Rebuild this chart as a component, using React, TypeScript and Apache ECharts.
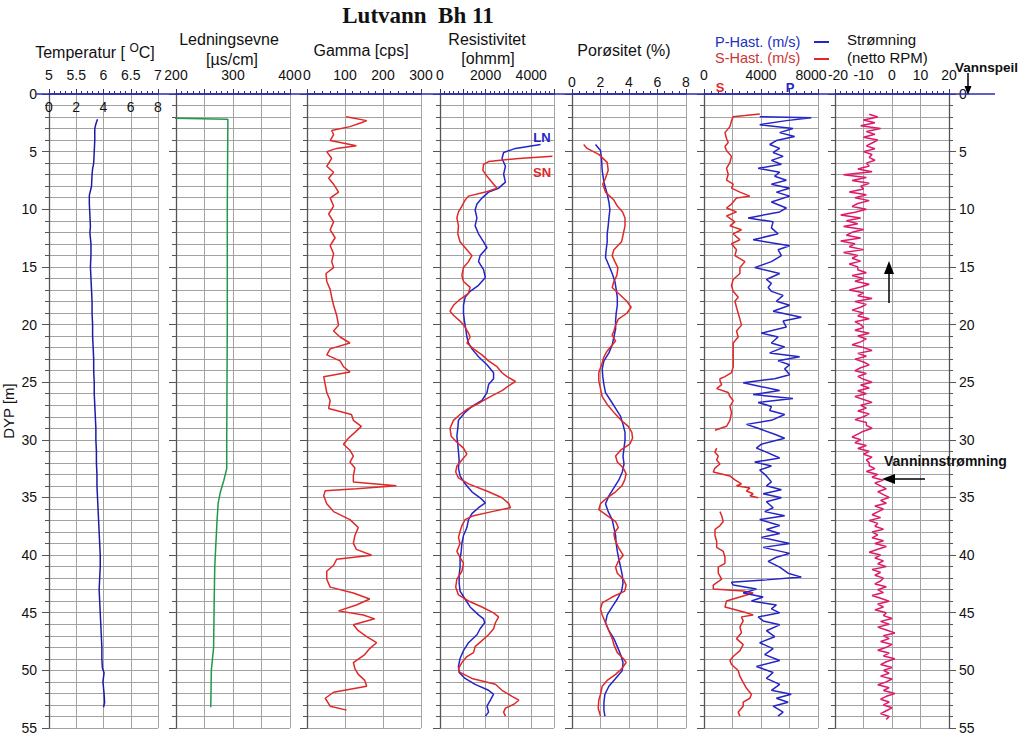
import React, { useEffect, useRef } from "react";
import * as echarts from "echarts";

const FONT = "'Liberation Sans', Arial, Helvetica, sans-serif";
const SERIF = "'Liberation Serif', 'Times New Roman', serif";

const chartTitle = "Lutvann  Bh 11";

// ---- tick label lists (top axes) ----
const tempLabels = [5, 5.5, 6, 6.5, 7];
const tempInnerLabels = [0, 2, 4, 6, 8];
const condLabels = [200, 300, 400];
const gammaLabels = [0, 100, 200, 300];
const resLabels = [0, 2000, 4000];
const poroLabels = [0, 2, 4, 6, 8];
const velLabels = [0, 4000, 8000];
const flowLabels = [-20, -10, 0, 10, 20];

// ---- data: [depth m, value] ----
const temperature: [number, number][] = [
  [2.2, 5.89], [2.6, 5.86], [3, 5.84], [4, 5.84], [5, 5.83], [6, 5.82], [6.5, 5.8], [7, 5.79],
  [8, 5.78], [8.8, 5.74], [9.5, 5.74], [10.5, 5.75], [11.5, 5.76], [12, 5.75], [13, 5.77],
  [14, 5.77], [15, 5.76], [16, 5.77], [17, 5.78], [18, 5.79], [19, 5.79], [20, 5.8], [21, 5.8],
  [22, 5.81], [23, 5.82], [24, 5.82], [25, 5.83], [26, 5.83], [27, 5.84], [28, 5.85], [29, 5.86],
  [30, 5.86], [31, 5.87], [32, 5.87], [33, 5.88], [34, 5.88], [35, 5.89], [36, 5.9], [37, 5.91],
  [38, 5.92], [39, 5.93], [40, 5.94], [41, 5.94], [42, 5.93], [43, 5.92], [44, 5.93], [45, 5.94],
  [46, 5.95], [47, 5.96], [48, 5.97], [49, 5.97], [49.8, 5.98], [50.2, 6.01], [51, 5.99],
  [52, 6.01], [52.8, 6.02], [53.2, 6.0],
];

const conductivity: [number, number][] = [
  [2.1, 188], [2.2, 291], [10, 290], [20, 290], [30, 289], [32.5, 289], [33.5, 284], [34.5, 278],
  [35.5, 274], [37, 272], [39, 270], [41, 268], [44, 267], [48, 266], [49, 264], [50, 262], [53.2, 261],
];

const gamma: [number, number][] = [
  [1.97, 103], [2.31, 157], [2.49, 143], [2.83, 113], [3.17, 65], [3.52, 70], [4.04, 61], [4.48, 130],
  [4.72, 78], [5, 52], [5.59, 65], [6.27, 52], [6.79, 70], [7.31, 57], [7.82, 70], [8.51, 83],
  [9.03, 61], [9.72, 70], [10.41, 57], [11.09, 70], [11.78, 61], [12.47, 74], [13.16, 61], [13.85, 70],
  [14.54, 65], [15.06, 70], [15.57, 50], [16.26, 52], [16.95, 61], [17.64, 65], [18.33, 70], [19.19, 78],
  [20.05, 83], [20.56, 70], [21.08, 87], [21.6, 113], [22.11, 61], [22.63, 52], [23.15, 87], [23.66, 96],
  [24.11, 113], [24.52, 44], [25.21, 48], [25.9, 52], [26.59, 61], [27.28, 57], [27.8, 117], [28.31, 122],
  [28.83, 143], [29.35, 126], [29.86, 109], [30.38, 96], [30.9, 113], [31.41, 122], [31.93, 113],
  [32.45, 126], [33.13, 122], [33.65, 122], [33.99, 235], [34.24, 130], [34.41, 48], [34.86, 44],
  [35.54, 52], [36.23, 70], [36.92, 113], [37.61, 135], [38.3, 126], [38.99, 122], [39.5, 130],
  [40.02, 170], [40.36, 78], [40.88, 70], [41.4, 52], [42.09, 52], [42.78, 61], [43.29, 122],
  [43.81, 165], [44.33, 130], [44.84, 83], [45.19, 148], [45.53, 178], [46.05, 122], [46.56, 135],
  [47.08, 157], [47.6, 183], [48.11, 165], [48.63, 152], [49.32, 122], [49.84, 126], [50.35, 135],
  [50.87, 152], [51.38, 157], [51.9, 70], [52.42, 48], [53.11, 61], [53.45, 104],
];

const resistLN: [number, number][] = [
  [4.38, 4410], [4.72, 3310], [5.07, 2790], [5.59, 2720], [6.27, 2870], [6.96, 2790], [7.65, 2870],
  [8.17, 2570], [8.51, 2130], [9.03, 1840], [9.55, 1620], [10.06, 1540], [10.75, 1620], [11.44, 1540],
  [12.13, 1690], [12.82, 1910], [13.33, 2060], [14.02, 1760], [14.54, 1690], [15.23, 1910],
  [15.92, 1990], [16.6, 1690], [17.12, 1320], [17.64, 1100], [18.33, 1030], [19.02, 1030],
  [19.7, 1070], [20.39, 1130], [21.08, 1180], [21.6, 1250], [22.11, 1400], [22.8, 1690], [23.49, 2060],
  [24.18, 2350], [24.7, 2350], [25.21, 2130], [25.9, 2060], [26.59, 1840], [27.11, 1400], [27.62, 1100],
  [28.31, 810], [29, 780], [29.69, 740], [30.38, 780], [31.07, 810], [31.76, 840], [32.45, 810],
  [33.13, 880], [33.82, 1100], [34.51, 1400], [35.03, 1760], [35.47, 1990], [35.89, 1690],
  [36.4, 1400], [36.92, 1250], [37.61, 1180], [38.3, 1030], [38.99, 960], [39.68, 930], [40.36, 880],
  [41.05, 880], [41.74, 840], [42.43, 840], [43.12, 880], [43.81, 1100], [44.5, 1320], [45.19, 1690],
  [45.53, 1910], [45.87, 1960], [46.39, 1760], [46.91, 1620], [47.6, 1250], [48.29, 1030], [48.97, 880],
  [49.66, 810], [50.18, 840], [50.7, 1100], [51.21, 1540], [51.73, 2130], [52.07, 2350], [52.59, 2210],
  [53.11, 2060], [53.62, 2130], [53.97, 1990],
];

const resistSN: [number, number][] = [
  [5.41, 4930], [5.59, 3460], [5.86, 2130], [6.1, 1910], [6.62, 1880], [7.13, 2060], [7.65, 2280],
  [8.17, 2500], [8.51, 1990], [8.86, 1250], [9.2, 1100], [9.72, 960], [10.23, 810], [10.75, 740],
  [11.44, 810], [12.13, 780], [12.82, 880], [13.51, 1180], [14.02, 1400], [14.54, 1250], [15.06, 1030],
  [15.74, 960], [16.26, 1030], [16.78, 1320], [17.29, 1250], [17.81, 880], [18.33, 590], [18.84, 440],
  [19.19, 590], [19.7, 880], [20.22, 1100], [20.74, 1250], [21.08, 1320], [21.6, 1180], [22.11, 1470],
  [22.63, 1840], [23.15, 2130], [23.66, 2500], [24.18, 2720], [24.52, 2940], [24.94, 3310],
  [25.21, 3090], [25.73, 2720], [26.25, 2210], [26.76, 1760], [27.28, 1250], [27.8, 880], [28.31, 590],
  [29, 440], [29.69, 490], [30.21, 740], [30.72, 1030], [31.24, 1180], [31.76, 960], [32.27, 740],
  [32.79, 690], [33.31, 810], [33.82, 1250], [34.51, 2130], [35.03, 2720], [35.54, 3020], [35.89, 3090],
  [36.23, 2280], [36.58, 1470], [36.92, 1100], [37.44, 960], [37.95, 880], [38.47, 810], [38.99, 880],
  [39.68, 740], [40.19, 880], [40.71, 1030], [41.4, 960], [42.09, 740], [42.78, 690], [43.46, 810],
  [43.98, 1250], [44.5, 1840], [45.01, 2350], [45.36, 2570], [45.87, 2430], [46.39, 2350], [46.91, 2130],
  [47.42, 1840], [47.94, 1540], [48.46, 1470], [48.8, 1180], [49.32, 960], [49.84, 810], [50.18, 880],
  [50.7, 1400], [51.21, 2430], [51.73, 2720], [52.25, 3160], [52.59, 3460], [52.94, 3240], [53.28, 2870],
  [53.62, 2790], [53.97, 2870],
];

const porosityLong: [number, number][] = [
  [4.38, 1.65], [4.9, 2.0], [5.59, 2.07], [6.62, 2.12], [7.65, 2.24], [8.68, 2.47], [9.37, 2.59],
  [10.06, 2.66], [10.75, 2.59], [11.44, 2.54], [12.13, 2.47], [12.82, 2.47], [13.51, 2.4], [14.19, 2.35],
  [14.88, 2.59], [15.57, 2.82], [16.26, 3.01], [16.95, 3.1], [17.64, 3.18], [18.33, 3.18], [19.02, 3.1],
  [19.7, 3.06], [20.39, 3.06], [21.08, 2.94], [21.77, 2.82], [22.46, 2.59], [23.15, 2.24], [23.84, 2.12],
  [24.52, 2.16], [25.21, 2.24], [25.9, 2.35], [26.59, 2.71], [27.28, 3.06], [27.97, 3.41], [28.66, 3.58],
  [29.35, 3.72], [30.03, 3.72], [30.72, 3.65], [31.41, 3.58], [32.1, 3.65], [32.79, 3.53], [33.48, 3.29],
  [34.17, 2.94], [34.86, 2.59], [35.54, 2.35], [36.23, 2.54], [36.92, 2.82], [37.61, 2.94], [38.3, 3.06],
  [38.99, 3.1], [39.68, 3.18], [40.36, 3.29], [41.05, 3.41], [41.74, 3.53], [42.43, 3.58], [43.12, 3.48],
  [43.81, 3.18], [44.5, 2.82], [45.19, 2.47], [45.87, 2.35], [46.56, 2.59], [47.25, 2.94], [47.94, 3.18],
  [48.63, 3.41], [49.32, 3.58], [50.01, 3.53], [50.7, 3.06], [51.38, 2.59], [52.07, 2.31], [52.76, 2.24],
  [53.45, 2.24], [53.97, 2.31],
];

const porosityShort: [number, number][] = [
  [4.38, 0.82], [4.72, 1.06], [5.24, 1.88], [5.93, 2.47], [6.62, 2.54], [7.31, 2.35], [7.82, 2.16],
  [8.51, 2.35], [9.2, 2.94], [9.72, 3.18], [10.23, 3.55], [10.75, 3.72], [11.44, 3.72], [12.13, 3.6],
  [12.82, 3.48], [13.51, 2.94], [14.02, 2.82], [14.54, 3.01], [15.06, 3.22], [15.74, 3.15], [16.26, 2.94],
  [16.78, 2.82], [17.29, 3.25], [17.98, 3.85], [18.5, 4.15], [19.02, 3.85], [19.53, 3.25], [20.05, 3.06],
  [20.56, 2.94], [20.91, 2.82], [21.43, 3.06], [21.77, 2.82], [22.29, 2.47], [22.8, 2.24], [23.32, 2.12],
  [24.18, 1.88], [24.87, 1.88], [25.56, 2.0], [26.25, 2.12], [26.93, 2.47], [27.62, 2.94], [28.31, 3.45],
  [28.83, 3.95], [29.35, 4.2], [29.86, 4.25], [30.38, 4.05], [30.9, 3.41], [31.41, 3.06], [31.93, 3.18],
  [32.45, 3.6], [32.96, 3.8], [33.48, 3.7], [33.99, 3.5], [34.51, 3.06], [35.03, 2.47], [35.54, 2.0],
  [36.06, 1.88], [36.58, 2.47], [37.09, 3.06], [37.61, 3.25], [38.13, 2.94], [38.64, 3.01], [39.33, 3.25],
  [40.02, 3.6], [40.54, 3.25], [41.05, 3.06], [41.57, 3.18], [42.09, 3.6], [42.6, 3.8], [43.12, 3.7],
  [43.64, 2.82], [44.15, 2.12], [44.67, 2.0], [45.19, 2.12], [45.87, 2.35], [46.56, 2.59], [47.25, 2.82],
  [47.77, 2.94], [48.46, 3.18], [48.97, 3.6], [49.32, 3.8], [49.84, 3.5], [50.35, 3.06], [50.87, 2.47],
  [51.38, 2.12], [52.07, 2.0], [52.59, 1.88], [53.28, 1.84], [53.97, 2.0],
];

const pVelocity: [number, number][] = [
  [1.97, 3910], [2.07, 7530], [2.31, 5780], [2.66, 3910], [3.0, 6240], [3.35, 5310], [3.69, 6360],
  [4.04, 5080], [4.38, 4610], [4.72, 5310], [5.07, 4850], [5.41, 5550], [5.76, 4730], [6.1, 5430],
  [6.45, 3800], [6.79, 5310], [7.13, 4960], [7.48, 5780], [7.82, 4730], [8.17, 6010], [8.51, 5080],
  [8.86, 6010], [9.37, 4730], [9.89, 5780], [10.23, 5310], [10.75, 3100], [11.09, 4850], [11.61, 4730],
  [12.13, 5200], [12.64, 3450], [13.16, 6010], [13.51, 5200], [14.02, 5430], [14.54, 4730], [15.06, 3560],
  [15.57, 5310], [16.09, 4380], [16.43, 4730], [16.78, 4500], [17.12, 4730], [17.47, 5550], [17.98, 5080],
  [18.33, 6010], [18.84, 4850], [19.36, 6830], [19.7, 5550], [20.22, 5780], [20.74, 4030], [21.08, 5200],
  [21.6, 4730], [21.94, 5660], [22.46, 4610], [22.8, 6710], [23.15, 5200], [23.49, 6010], [23.84, 5660],
  [24.35, 6010], [24.7, 4960], [25.04, 2750], [25.39, 4030], [25.73, 5310], [26.07, 3450], [26.42, 6240],
  [26.76, 3800], [27.11, 4730], [27.45, 4610], [27.8, 5660], [28.31, 4730], [28.66, 2980], [29, 3800],
  [29.52, 4960], [29.86, 5660], [30.38, 4030], [30.72, 3680], [31.07, 4380], [31.58, 5310], [31.93, 3560],
  [32.27, 4730], [32.62, 3910], [33.13, 4380], [33.65, 4730], [33.99, 4380], [34.34, 5430], [34.68, 4150],
  [35.03, 5430], [35.37, 4380], [35.89, 4850], [36.23, 4260], [36.58, 5660], [36.92, 3910], [37.44, 5310],
  [37.78, 4380], [38.13, 5310], [38.47, 4030], [38.99, 6010], [39.33, 4150], [39.85, 6010], [40.19, 5080],
  [40.54, 4500], [41.05, 5310], [41.57, 5900], [41.91, 6830], [42.15, 4380], [42.36, 1930], [42.6, 2050],
  [42.95, 3680], [43.29, 2750], [43.64, 4150], [43.98, 3330], [44.33, 5080], [44.67, 4730], [45.01, 5310],
  [45.36, 3800], [45.71, 4150], [46.05, 5310], [46.56, 4380], [47.08, 4960], [47.6, 3910], [48.11, 4850],
  [48.63, 4260], [49.15, 5310], [49.66, 3680], [50.18, 4850], [50.7, 4380], [51.21, 5310], [51.73, 4730],
  [52.07, 6120], [52.42, 5080], [52.76, 5900], [53.11, 4850], [53.62, 5550], [53.97, 5200],
];

const sVelocityUpper: [number, number][] = [
  [1.73, 3920], [1.87, 2870], [1.97, 2050], [2.31, 1930], [2.83, 1820], [3.35, 1470], [3.86, 1580],
  [4.21, 1700], [4.55, 1470], [4.9, 1580], [5.41, 1930], [5.93, 1820], [6.45, 1580], [6.96, 1700],
  [7.48, 1580], [7.82, 2050], [8.17, 1930], [8.51, 2520], [8.86, 3220], [9.03, 2280], [9.55, 1930],
  [9.89, 1580], [10.23, 2280], [10.58, 1580], [11.09, 2170], [11.44, 1820], [11.78, 2630], [12.13, 2050],
  [12.64, 2520], [12.99, 1930], [13.51, 2280], [14.02, 2170], [14.54, 2870], [15.06, 2520], [15.57, 2520],
  [16.09, 2050], [16.6, 1930], [17.12, 2050], [17.64, 2400], [17.98, 2170], [18.5, 2280], [19.02, 2400],
  [19.53, 2520], [20.05, 2630], [20.56, 2280], [21.08, 2400], [21.6, 2050], [22.11, 2050], [22.63, 2050],
  [23.15, 2050], [23.66, 2050], [24.18, 1930], [24.52, 1470], [24.7, 1120], [24.87, 1120], [25.21, 1240],
  [25.56, 890], [25.9, 1700], [26.25, 1820], [26.59, 2050], [27.11, 1820], [27.62, 1930], [28.31, 1820],
  [28.83, 1580], [29.17, 770],
];

const sVelocityMiddle: [number, number][] = [
  [30.72, 890], [31.07, 770], [31.41, 1000], [31.76, 890], [32.1, 1120], [32.45, 770], [32.79, 650],
  [33.13, 1820], [33.48, 2170], [33.82, 2630], [33.99, 2280], [34.17, 3220], [34.44, 2980], [34.68, 3450],
  [34.86, 3220], [35.03, 3800],
];

const sVelocityLower: [number, number][] = [
  [36.23, 1120], [36.58, 1240], [37.09, 1350], [37.44, 1120], [37.78, 770], [38.3, 770], [38.82, 890],
  [39.33, 890], [39.68, 1350], [40.19, 1470], [40.71, 1470], [41.05, 1000], [41.57, 1000], [42.09, 1240],
  [42.6, 650], [42.95, 650], [43.12, 2750], [43.29, 3450], [43.64, 2520], [43.98, 1580], [44.5, 1470],
  [45.01, 2980], [45.19, 3450], [45.36, 2630], [45.71, 2750], [46.22, 2520], [46.74, 2630], [47.25, 2280],
  [47.77, 2750], [48.29, 2520], [48.8, 2050], [49.15, 1820], [49.49, 1930], [50.01, 2400], [50.53, 2520],
  [51.05, 2750], [51.56, 2980], [52.07, 3330], [52.42, 3220], [52.76, 2750], [53.11, 2750], [53.62, 2400],
  [53.97, 2520],
];

// Strømning (netto RPM), read every 0.25 m from 1.75 m
const flowStartDepth = 1.75;
const flowDepthStep = 0.25;
const flowValues: number[] = [
  -8, -5, -10, -6, -11, -4, -9, -6, -10, -5,
  -7, -9, -6, -10, -7, -8, -6, -9,
  -8, -12, -7, -17, -9, -14, -8, -11,
  -10, -15, -9, -13, -8, -12, -14, -9,
  -13, -18, -11, -16, -12, -17, -10, -14,
  -16, -11, -18, -13, -15, -10, -17, -12, -14, -11, -15, -12,
  -12, -9, -14, -10, -13, -8, -11, -15, -10, -12, -7, -13, -9, -11, -14, -10, -12, -8, -13, -11,
  -10, -13, -8, -12, -9, -11, -14, -10, -7, -12, -9, -13, -10, -8, -11, -13, -9, -12, -10, -7,
  -11, -8, -12, -9, -13, -10, -7, -11, -9, -12, -8, -10, -13, -9,
  -9, -7, -10, -12, -14, -11, -13, -9, -12, -8, -10, -7, -9, -8,
  -8, -6, -9, -5, -7, -3, -6, -4, -2, -5, -3, -1,
  -4, -2, -6, -3, -5, -7, -4, -8, -5, -6, -3, -7,
  -5, -7, -3, -6, -2, -5, -8, -4, -6, -3, -5, -2, -7, -4, -6, -3,
  -4, -6, -2, -5, -3, -7, -4, -1, -5, -3, -6, -2,
  -3, 0, -4, -1, -5, -2, 1, -3, -1, -4, 0, -2, -5, -1, -3, 1, -2, -4, 0, -3,
  -1, -4, 0, -2, -5, -1, -3, 1, -2, -4, -1, -3, 0, -2, -4, -1, -2,
];

// ---- colours ----
const C_AXISBLUE = "#2b2bb5";
const C_TEMP = "#1c1ca6";
const C_COND = "#1f9a4c";
const C_RED = "#e02828";
const C_BLUE = "#2424c8";
const C_FLOW = "#e0186a";
const C_GRID = "#a3a3a3";
const C_AXIS = "#555555";

const panelLefts = [44, 176, 307, 440, 572, 704, 835];
const PANEL_W = 114;
const PANEL_TOP = 94;
const PANEL_H = 634;

function hasLabel(list: number[], v: number) {
  return list.some((s) => Math.abs(s - v) < 1e-6);
}

const labelRich = {
  l: { fontSize: 14, fontFamily: FONT, color: "#111", padding: [0, 14, 0, 0] },
  r: { fontSize: 14, fontFamily: FONT, color: "#111", padding: [0, 0, 0, 6] },
};

function topAxis(
  grid: number, min: number, max: number, interval: number, minorSplit: number, labels: number[],
  margin = 12, shiftMax = false, shiftMin = false
) {
  return {
    type: "value",
    gridIndex: grid,
    position: "top",
    min,
    max,
    interval,
    axisLine: { show: true, onZero: false, lineStyle: { color: C_AXISBLUE, width: 1.5 } },
    axisTick: { show: true, inside: false, length: 5, lineStyle: { color: "#333366", width: 1 } },
    minorTick: { show: true, splitNumber: minorSplit, length: 3, lineStyle: { color: "#333366", width: 1 } },
    axisLabel: {
      show: true,
      margin,
      fontSize: 14,
      fontFamily: FONT,
      color: "#111",
      rich: labelRich,
      formatter: (v: number) => {
        if (!hasLabel(labels, v)) return "";
        if (shiftMax && Math.abs(v - max) < 1e-6) return "{l|" + v + "}";
        if (shiftMin && Math.abs(v - min) < 1e-6) return "{r|" + v + "}";
        return String(v);
      },
    },
    splitLine: { show: true, lineStyle: { color: C_GRID, width: 1 } },
  };
}

function depthAxis(grid: number, extra: any = {}) {
  return {
    type: "value",
    gridIndex: grid,
    min: 0,
    max: 55,
    interval: 5,
    inverse: true,
    position: "left",
    axisLine: { show: true, onZero: false, lineStyle: { color: C_AXIS, width: 1.3 } },
    axisTick: { show: true, inside: false, length: 7, lineStyle: { color: C_AXIS } },
    minorTick: { show: true, splitNumber: 5, length: 4, lineStyle: { color: C_AXIS } },
    axisLabel: { show: false },
    splitLine: { show: true, lineStyle: { color: C_GRID, width: 1 } },
    minorSplitLine: { show: true, lineStyle: { color: C_GRID, width: 1 } },
    ...extra,
  };
}

function curve(pairs: [number, number][], xi: number, yi: number, color: string, extra: any = {}) {
  return {
    type: "line",
    xAxisIndex: xi,
    yAxisIndex: yi,
    data: pairs.map(([d, v]) => [v, d]),
    showSymbol: false,
    symbol: "none",
    silent: true,
    lineStyle: { color, width: 1.5 },
    itemStyle: { color },
    z: 5,
    ...extra,
  };
}

function txt(x: number, y: number, text: string, opts: any = {}) {
  return {
    type: "text",
    x,
    y,
    z: 20,
    style: {
      text,
      fill: opts.fill || "#111",
      fontSize: opts.fontSize || 16,
      fontFamily: opts.fontFamily || FONT,
      fontWeight: opts.fontWeight || "normal",
      align: opts.align || "center",
      verticalAlign: "middle",
      ...(opts.rich ? { rich: opts.rich } : {}),
    },
  };
}

export default function App() {
  const ref = useRef<HTMLDivElement>(null);

  useEffect(() => {
    if (!ref.current) return;
    const chart = echarts.init(ref.current, undefined, { renderer: "svg" });

    const flowPairs: [number, number][] = flowValues.map((v, i) => [flowStartDepth + i * flowDepthStep, v]);

    const grids = panelLefts.map((left) => ({ left, top: PANEL_TOP, width: PANEL_W, height: PANEL_H, containLabel: false }));

    const xAxes = [
      topAxis(0, 5, 7, 0.5, 5, tempLabels),
      {
        type: "value",
        gridIndex: 0,
        position: "top",
        min: 0,
        max: 8,
        interval: 2,
        axisLine: { show: false },
        axisTick: { show: false },
        splitLine: { show: false },
        axisLabel: { show: true, inside: true, margin: 6, fontSize: 14, fontFamily: FONT, color: "#111",
          formatter: (v: number) => (hasLabel(tempInnerLabels, v) ? String(v) : "") },
      },
      topAxis(1, 200, 400, 50, 5, condLabels),
      topAxis(2, 0, 300, 100, 5, gammaLabels),
      topAxis(3, 0, 5000, 1000, 5, resLabels),
      topAxis(4, 0, 8, 2, 4, poroLabels, 5),
      topAxis(5, 0, 8000, 2000, 4, velLabels, 12, true, false),
      topAxis(6, -20, 20, 10, 5, flowLabels, 12, false, true),
    ];

    const yAxes: any[] = panelLefts.map((_, i) =>
      i === 0
        ? depthAxis(0, {
            axisLabel: { show: true, margin: 12, fontSize: 14, fontFamily: FONT, color: "#111" },
            name: "DYP [m]",
            nameLocation: "middle",
            nameGap: 33,
            nameRotate: 90,
            nameTextStyle: { fontSize: 15, fontFamily: FONT, color: "#111" },
          })
        : depthAxis(i)
    );
    yAxes.push({
      ...depthAxis(6),
      position: "right",
      splitLine: { show: false },
      minorSplitLine: { show: false },
      axisLabel: { show: true, margin: 10, fontSize: 14, fontFamily: FONT, color: "#111" },
    });

    const series = [
      curve(temperature, 0, 0, C_TEMP),
      curve(conductivity, 2, 1, C_COND, { clip: false }),
      curve(gamma, 3, 2, C_RED),
      curve(resistLN, 4, 3, C_BLUE),
      curve(resistSN, 4, 3, C_RED),
      curve(porosityLong, 5, 4, C_BLUE),
      curve(porosityShort, 5, 4, C_RED),
      curve(sVelocityUpper, 6, 5, C_RED),
      curve(sVelocityMiddle, 6, 5, C_RED),
      curve(sVelocityLower, 6, 5, C_RED),
      curve(pVelocity, 6, 5, C_BLUE),
      curve(flowPairs, 7, 6, C_FLOW),
    ];

    const graphic: any[] = [
      { type: "line", z: 15, shape: { x1: 36, y1: PANEL_TOP, x2: 995, y2: PANEL_TOP }, style: { stroke: C_AXISBLUE, lineWidth: 1.5 } },
      txt(418, 15, chartTitle, { fontSize: 23, fontFamily: SERIF, fontWeight: "bold" }),
      txt(95, 52, "Temperatur [ {s|O}C]", {
        rich: { s: { fontSize: 12, fontFamily: FONT, verticalAlign: "top", padding: [0, 0, 8, 0] } },
      }),
      txt(229, 39, "Ledningsevne"),
      txt(232, 59, "[µs/cm]"),
      txt(361, 50, "Gamma [cps]"),
      txt(487, 39, "Resistivitet"),
      txt(488, 58, "[ohmm]"),
      txt(624, 50, "Porøsitet (%)"),
      txt(715, 42, "P-Hast. (m/s)", { align: "left", fontSize: 14.5, fill: "#2030c0" }),
      txt(715, 58, "S-Hast. (m/s)", { align: "left", fontSize: 14.5, fill: "#cc3333" }),
      { type: "line", z: 20, shape: { x1: 814, y1: 42, x2: 829, y2: 42 }, style: { stroke: C_BLUE, lineWidth: 2 } },
      { type: "line", z: 20, shape: { x1: 814, y1: 59, x2: 829, y2: 59 }, style: { stroke: C_RED, lineWidth: 2 } },
      txt(847, 39, "Strømning", { align: "left", fontSize: 15 }),
      txt(847, 57, "(netto RPM)", { align: "left", fontSize: 15 }),
      txt(955, 67, "Vannspeil", { align: "left", fontSize: 13.5, fontWeight: "bold" }),
      { type: "line", z: 20, shape: { x1: 968, y1: 73, x2: 968, y2: 88 }, style: { stroke: "#000", lineWidth: 1.5 } },
      { type: "polygon", z: 20, shape: { points: [[964.5, 86], [971.5, 86], [968, 95]] }, style: { fill: "#000" } },
      txt(720, 87, "S", { fontSize: 13, fontWeight: "bold", fill: C_RED }),
      txt(790, 87, "P", { fontSize: 13, fontWeight: "bold", fill: C_BLUE }),
      txt(542, 137, "LN", { fontSize: 13, fontWeight: "bold", fill: C_BLUE }),
      txt(542, 172, "SN", { fontSize: 13, fontWeight: "bold", fill: C_RED }),
      { type: "line", z: 20, shape: { x1: 889, y1: 303, x2: 889, y2: 272 }, style: { stroke: "#000", lineWidth: 1.5 } },
      { type: "polygon", z: 20, shape: { points: [[884, 274], [894, 274], [889, 261]] }, style: { fill: "#000" } },
      txt(884, 461, "Vanninnstrømning", { align: "left", fontSize: 14, fontWeight: "bold" }),
      { type: "line", z: 20, shape: { x1: 925, y1: 479, x2: 893, y2: 479 }, style: { stroke: "#000", lineWidth: 1.5 } },
      { type: "polygon", z: 20, shape: { points: [[895, 474], [895, 484], [882, 479]] }, style: { fill: "#000" } },
    ];

    chart.setOption({
      animation: false,
      backgroundColor: "#ffffff",
      textStyle: { fontFamily: FONT },
      grid: grids,
      xAxis: xAxes,
      yAxis: yAxes,
      series,
      graphic,
    });

    return () => chart.dispose();
  }, []);

  return <div ref={ref} style={{ position: "absolute", left: 0, top: 0, width: 1024, height: 735, background: "#fff" }} />;
}
